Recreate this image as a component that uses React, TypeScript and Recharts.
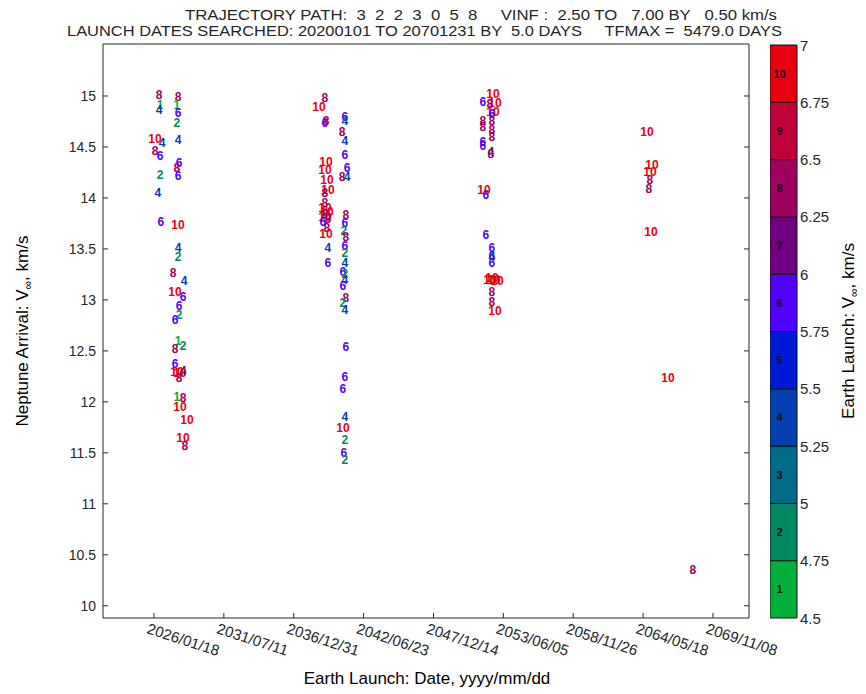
import React from 'react';
import {
  ScatterChart,
  Scatter,
  XAxis,
  YAxis,
  ReferenceArea,
} from 'recharts';

// launch day counted from 2020/01/01, arrival v-inf (km/s), path level
const WINDOW_2026: [number, number, number][] = [
  [2352, 15.01, 8], [2896, 14.99, 8], [2381, 14.91, 1], [2352, 14.86, 4],
  [2867, 14.91, 1], [2896, 14.83, 6], [2867, 14.74, 2], [2238, 14.58, 10],
  [2438, 14.54, 4], [2238, 14.46, 8], [2381, 14.41, 6], [2896, 14.57, 4],
  [2925, 14.34, 6], [2867, 14.29, 8], [2896, 14.22, 6], [2381, 14.23, 2],
  [2323, 14.05, 4], [2409, 13.76, 6], [2896, 13.73, 10], [2896, 13.51, 4],
  [2896, 13.42, 2], [2753, 13.26, 8], [3068, 13.19, 4], [2810, 13.08, 10],
  [3039, 13.03, 6], [2925, 12.94, 6], [2925, 12.85, 2], [2810, 12.8, 6],
  [2896, 12.6, 1], [3039, 12.55, 2], [2810, 12.52, 8], [2810, 12.37, 6],
  [2867, 12.29, 10], [3039, 12.3, 4], [2953, 12.28, 10], [2925, 12.23, 8],
  [2867, 12.05, 1], [3039, 12.04, 8], [2953, 11.95, 10], [3153, 11.82, 10],
  [3039, 11.65, 10], [3096, 11.57, 8],
];

const WINDOW_2037: [number, number, number][] = [
  [7103, 14.98, 8], [6931, 14.89, 10], [7103, 14.74, 6], [7132, 14.75, 8],
  [7675, 14.79, 6], [7675, 14.75, 4], [7590, 14.65, 8], [7675, 14.56, 4],
  [7675, 14.42, 6], [7733, 14.29, 6], [7733, 14.21, 4], [7590, 14.21, 8],
  [7132, 14.35, 10], [7103, 14.27, 10], [7160, 14.18, 10], [7189, 14.08, 10],
  [7103, 14.05, 8], [7103, 13.95, 8], [7103, 13.9, 10], [7160, 13.86, 10],
  [7103, 13.84, 8], [7103, 13.81, 10], [7189, 13.79, 8], [7046, 13.76, 6],
  [7160, 13.71, 8], [7132, 13.65, 10], [7189, 13.51, 4], [7189, 13.36, 6],
  [7704, 13.83, 8], [7675, 13.75, 6], [7647, 13.68, 2], [7704, 13.62, 8],
  [7675, 13.53, 6], [7675, 13.46, 2], [7675, 13.36, 4], [7618, 13.27, 6],
  [7675, 13.25, 2], [7675, 13.2, 4], [7618, 13.14, 6], [7704, 13.02, 8],
  [7618, 12.97, 2], [7675, 12.9, 4], [7704, 12.54, 6], [7675, 12.24, 6],
  [7618, 12.13, 6], [7675, 11.85, 4], [7618, 11.74, 10], [7675, 11.63, 2],
  [7647, 11.5, 6], [7675, 11.43, 2],
];

const WINDOW_2052: [number, number, number][] = [
  [11911, 15.02, 10], [11625, 14.94, 6], [11969, 14.93, 10], [11825, 14.92, 8],
  [11911, 14.84, 10], [11883, 14.82, 6], [11625, 14.75, 8], [11625, 14.7, 8],
  [11883, 14.75, 8], [11883, 14.67, 8], [11883, 14.6, 8], [11625, 14.55, 6],
  [11625, 14.51, 6], [11854, 14.45, 4], [11854, 14.43, 8], [11654, 14.08, 10],
  [11711, 14.03, 6], [11711, 13.64, 6], [11883, 13.51, 6], [11883, 13.43, 6],
  [11883, 13.42, 4], [11883, 13.36, 6], [11825, 13.2, 10], [11940, 13.2, 10],
  [12026, 13.19, 10], [11883, 13.21, 10], [11883, 13.08, 8], [11883, 12.98, 8],
  [11969, 12.89, 10],
];

const WINDOW_2064: [number, number, number][] = [
  [16318, 14.65, 10], [16461, 14.32, 10], [16404, 14.25, 10], [16404, 14.18, 8],
  [16375, 14.09, 8], [16432, 13.67, 10], [16919, 12.23, 10], [17635, 10.35, 8],
];

const X_TICKS = [2209, 4209, 6209, 8209, 10209, 12209, 14209, 16209, 18209];
const X_TICK_LABELS = [
  '2026/01/18', '2031/07/11', '2036/12/31', '2042/06/23', '2047/12/14',
  '2053/06/05', '2058/11/26', '2064/05/18', '2069/11/08',
];
const Y_TICKS = [10, 10.5, 11, 11.5, 12, 12.5, 13, 13.5, 14, 14.5, 15];

const LEVELS = [1, 2, 3, 4, 5, 6, 7, 8, 9, 10];
const LEVEL_COLORS = [
  '#00b038', '#008862', '#006a8a', '#0040b0', '#0018d8',
  '#5000ff', '#700080', '#a00060', '#c00038', '#e8000f',
];
const CB_TICKS = [4.5, 4.75, 5, 5.25, 5.5, 5.75, 6, 6.25, 6.5, 6.75, 7];

const FONT = '"Liberation Sans", Arial, sans-serif';
const AXIS = '#262626';

const points = [...WINDOW_2026, ...WINDOW_2037, ...WINDOW_2052, ...WINDOW_2064].map(
  ([day, vinf, level]) => ({ day, vinf, level })
);

// one marker per colorbar segment, at its middle, carrying the level number
const cbMarks = LEVELS.map((lv, i) => ({
  x: 0.5,
  y: (CB_TICKS[i] + CB_TICKS[i + 1]) / 2,
  level: lv,
}));

const PointLabel = (props: any) => {
  const { cx, cy, payload } = props;
  if (cx == null || cy == null) return null;
  return (
    <text
      x={cx}
      y={cy}
      textAnchor="middle"
      dominantBaseline="central"
      fontSize={12}
      fontWeight="bold"
      fontFamily={FONT}
      fill={LEVEL_COLORS[payload.level - 1]}
    >
      {payload.level}
    </text>
  );
};

const LevelLabel = (props: any) => {
  const { cx, cy, payload } = props;
  if (cx == null || cy == null) return null;
  return (
    <text
      x={cx - 4}
      y={cy}
      textAnchor="middle"
      dominantBaseline="central"
      fontSize={11}
      fontWeight="bold"
      fontFamily={FONT}
      fill="#111"
    >
      {payload.level}
    </text>
  );
};

const BottomTick = (props: any) => {
  const { x, y, payload } = props;
  const i = X_TICKS.indexOf(payload.value);
  const tx = x - 8;
  const ty = y + 15;
  return (
    <g>
      <line x1={x} y1={y} x2={x} y2={y - 5} stroke={AXIS} />
      <text
        x={tx}
        y={ty}
        transform={`rotate(18 ${tx} ${ty})`}
        fontSize={15}
        fontFamily={FONT}
        fill={AXIS}
      >
        {X_TICK_LABELS[i]}
      </text>
    </g>
  );
};

const TopTick = (props: any) => {
  const { x, y } = props;
  return <line x1={x} y1={y} x2={x} y2={y + 5} stroke={AXIS} />;
};

const LeftTick = (props: any) => {
  const { x, y, payload } = props;
  return (
    <g>
      <line x1={x} y1={y} x2={x + 5} y2={y} stroke={AXIS} />
      <text
        x={x - 7}
        y={y}
        textAnchor="end"
        dominantBaseline="central"
        fontSize={14}
        fontFamily={FONT}
        fill={AXIS}
      >
        {payload.value}
      </text>
    </g>
  );
};

const RightTick = (props: any) => {
  const { x, y } = props;
  return <line x1={x} y1={y} x2={x - 5} y2={y} stroke={AXIS} />;
};

const ColorbarTick = (props: any) => {
  const { x, y, payload } = props;
  return (
    <text
      x={x + 3}
      y={y}
      dominantBaseline="central"
      fontSize={15}
      fontFamily={FONT}
      fill={AXIS}
    >
      {payload.value}
    </text>
  );
};

const App = () => {
  return (
    <div style={{ position: 'absolute', left: 0, top: 0, width: 866, height: 694, background: '#fff' }}>
      <div style={{ position: 'absolute', left: 0, top: 0 }}>
        <ScatterChart
          width={866}
          height={694}
          margin={{ top: 34, right: 107, bottom: 0, left: 0 }}
        >
          <XAxis
            xAxisId="bottom"
            dataKey="day"
            type="number"
            domain={[750, 19240]}
            ticks={X_TICKS}
            allowDataOverflow
            height={76}
            tickSize={0}
            tickMargin={0}
            tickLine={false}
            tick={<BottomTick />}
            axisLine={{ stroke: AXIS }}
            interval={0}
          />
          <XAxis
            xAxisId="top"
            orientation="top"
            type="number"
            domain={[750, 19240]}
            ticks={X_TICKS}
            allowDataOverflow
            height={10}
            tickSize={0}
            tickMargin={0}
            tickLine={false}
            tick={<TopTick />}
            axisLine={{ stroke: AXIS }}
            interval={0}
          />
          <YAxis
            yAxisId="left"
            dataKey="vinf"
            type="number"
            domain={[9.88, 15.51]}
            ticks={Y_TICKS}
            allowDataOverflow
            width={103}
            tickSize={0}
            tickMargin={0}
            tickLine={false}
            tick={<LeftTick />}
            axisLine={{ stroke: AXIS }}
            interval={0}
          />
          <YAxis
            yAxisId="right"
            orientation="right"
            type="number"
            domain={[9.88, 15.51]}
            ticks={Y_TICKS}
            allowDataOverflow
            width={10}
            tickSize={0}
            tickMargin={0}
            tickLine={false}
            tick={<RightTick />}
            axisLine={{ stroke: AXIS }}
            interval={0}
          />
          <Scatter
            data={points}
            xAxisId="bottom"
            yAxisId="left"
            shape={<PointLabel />}
            isAnimationActive={false}
          />
        </ScatterChart>
      </div>

      <div style={{ position: 'absolute', left: 770, top: 0 }}>
        <ScatterChart
          width={67}
          height={694}
          margin={{ top: 45, right: 0, bottom: 76, left: 0 }}
        >
          <XAxis type="number" dataKey="x" domain={[0, 1]} hide />
          <YAxis
            orientation="right"
            type="number"
            dataKey="y"
            domain={[4.5, 7]}
            ticks={CB_TICKS}
            width={40}
            axisLine={false}
            tickLine={false}
            tickSize={0}
            tickMargin={0}
            tick={<ColorbarTick />}
            interval={0}
          />
          {LEVELS.map((lv, i) => (
            <ReferenceArea
              key={lv}
              y1={CB_TICKS[i]}
              y2={CB_TICKS[i + 1]}
              fill={LEVEL_COLORS[i]}
              fillOpacity={1}
              stroke="#111"
              strokeWidth={1}
            />
          ))}
          <Scatter
            data={cbMarks}
            shape={<LevelLabel />}
            isAnimationActive={false}
          />
        </ScatterChart>
      </div>

      <svg
        width={866}
        height={694}
        style={{ position: 'absolute', left: 0, top: 0, pointerEvents: 'none' }}
      >
        <text
          x={185}
          y={20}
          fontSize={15}
          fontFamily={FONT}
          fill={AXIS}
          textLength={592}
          lengthAdjust="spacingAndGlyphs"
          style={{ whiteSpace: 'pre' }}
        >
          {'TRAJECTORY PATH:  3  2  2  3  0  5  8     VINF :  2.50 TO   7.00 BY   0.50 km/s'}
        </text>
        <text
          x={67}
          y={36}
          fontSize={15}
          fontFamily={FONT}
          fill={AXIS}
          textLength={715}
          lengthAdjust="spacingAndGlyphs"
          style={{ whiteSpace: 'pre' }}
        >
          {'LAUNCH DATES SEARCHED: 20200101 TO 20701231 BY  5.0 DAYS     TFMAX =  5479.0 DAYS'}
        </text>
        <text
          x={427}
          y={684}
          textAnchor="middle"
          fontSize={17}
          fontFamily={FONT}
          fill="#000"
        >
          Earth Launch: Date, yyyy/mm/dd
        </text>
        <text
          transform="translate(28 331) rotate(-90)"
          textAnchor="middle"
          fontSize={17}
          fontFamily={FONT}
          fill="#000"
        >
          Neptune Arrival: V<tspan fontSize={12} dy={4}>∞</tspan>
          <tspan dy={-4}>, km/s</tspan>
        </text>
        <text
          transform="translate(854 331) rotate(-90)"
          textAnchor="middle"
          fontSize={17}
          fontFamily={FONT}
          fill="#000"
        >
          Earth Launch: V<tspan fontSize={12} dy={4}>∞</tspan>
          <tspan dy={-4}>, km/s</tspan>
        </text>
      </svg>
    </div>
  );
};

export default App;
